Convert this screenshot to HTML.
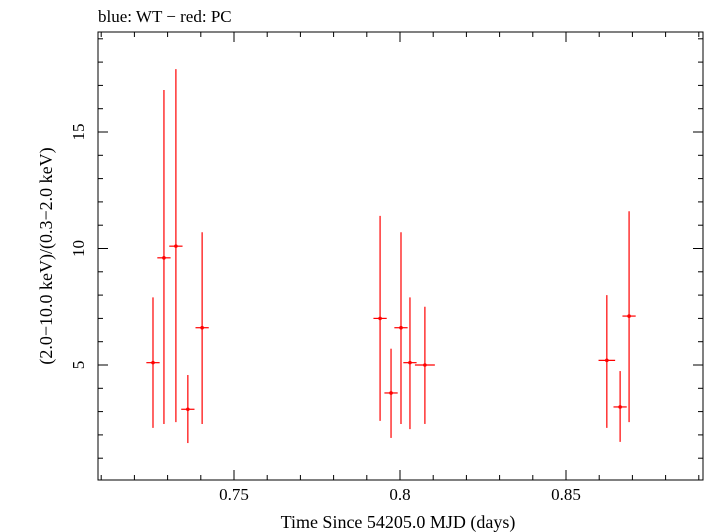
<!DOCTYPE html>
<html><head><meta charset="utf-8"><style>
html,body{margin:0;padding:0;background:#fff;}
svg{display:block;font-family:"Liberation Serif",serif;}
</style></head><body>
<svg id="chart" width="705" height="532" viewBox="0 0 705 532" xmlns="http://www.w3.org/2000/svg">
<text x="98" y="22" font-size="17" fill="#000">blue: WT − red: PC</text>
<rect x="98" y="32" width="605" height="448" fill="none" stroke="#000" stroke-width="1"/>
<g id="ticks"></g>
<g id="marks"></g>
<text x="398" y="528" font-size="18" text-anchor="middle">Time Since 54205.0 MJD (days)</text>
<text transform="translate(52,256) rotate(-90)" font-size="18" text-anchor="middle">(2.0−10.0 keV)/(0.3−2.0 keV)</text>
</svg>
<script>
const times=[0.7256,0.7289,0.7325,0.7361,0.7404,0.7940,0.7973,0.8003,0.8030,0.8075,0.8623,0.8663,0.8690];
const timeErr=[0.002,0.002,0.002,0.002,0.002,0.002,0.002,0.002,0.002,0.003,0.0025,0.002,0.002];
const ratios=[5.1,9.6,10.1,3.1,6.6,7.0,3.8,6.6,5.1,5.0,5.2,3.2,7.1];
const ratioHi=[7.9,16.8,17.7,4.57,10.7,11.4,5.7,10.7,7.9,7.5,8.0,4.74,11.6];
const ratioLo=[2.3,2.47,2.55,1.65,2.47,2.6,1.87,2.47,2.25,2.47,2.3,1.7,2.55];
const xTicks=[0.75,0.8,0.85];
const xTickLabels=["0.75","0.8","0.85"];
const yTicks=[5,10,15];
const yTickLabels=["5","10","15"];
const NS="http://www.w3.org/2000/svg";
const L=98,R=703,T=32,B=480;
function xs(v){return 234+(v-0.75)*3320;}
function ys(v){return 365-(v-5)*23.3;}
function mk(tag,attrs,parent){const e=document.createElementNS(NS,tag);for(const k in attrs)e.setAttribute(k,attrs[k]);parent.appendChild(e);return e;}
const tg=document.getElementById('ticks');
for(let m=0.71;m<0.9;m+=0.01){const x=xs(m);if(x<=L||x>=R)continue;
 const major=xTicks.some(t=>Math.abs(t-m)<1e-6);const len=major?10:5;
 const t1=mk('line',{x1:x,x2:x,y1:B,y2:B-len,stroke:'#000'},tg);
 
 
 const t2=mk('line',{x1:x,x2:x,y1:T,y2:T+len,stroke:'#000'},tg);
 
 }
xTicks.forEach((t,i)=>{const e=mk('text',{x:xs(t),y:B+20,'font-size':17,'text-anchor':'middle'},tg);e.textContent=xTickLabels[i];
 
 });
for(let m=1;m<=19;m++){const y=ys(m);if(y<=T||y>=B)continue;
 const major=yTicks.includes(m);const len=major?10:5;
 const t1=mk('line',{x1:L,x2:L+len,y1:y,y2:y,stroke:'#000'},tg);
 
 
 const t2=mk('line',{x1:R,x2:R-len,y1:y,y2:y,stroke:'#000'},tg);
 
 }
yTicks.forEach((t,i)=>{const e=mk('text',{transform:`translate(${L-14},${ys(t)}) rotate(-90)`,'font-size':17,'text-anchor':'middle'},tg);e.textContent=yTickLabels[i];
 
 });
const mg=document.getElementById('marks');
times.forEach((t,i)=>{const g=mk('g',{},mg);
 
 
 mk('line',{x1:xs(t),x2:xs(t),y1:ys(ratioHi[i]),y2:ys(ratioLo[i]),stroke:'#f00','stroke-width':1.2},g);
 mk('line',{x1:xs(t-timeErr[i]),x2:xs(t+timeErr[i]),y1:ys(ratios[i]),y2:ys(ratios[i]),stroke:'#f00','stroke-width':1.2},g);
 mk('circle',{cx:xs(t),cy:ys(ratios[i]),r:1.8,fill:'#f00'},g);});
</script>
</body></html>
